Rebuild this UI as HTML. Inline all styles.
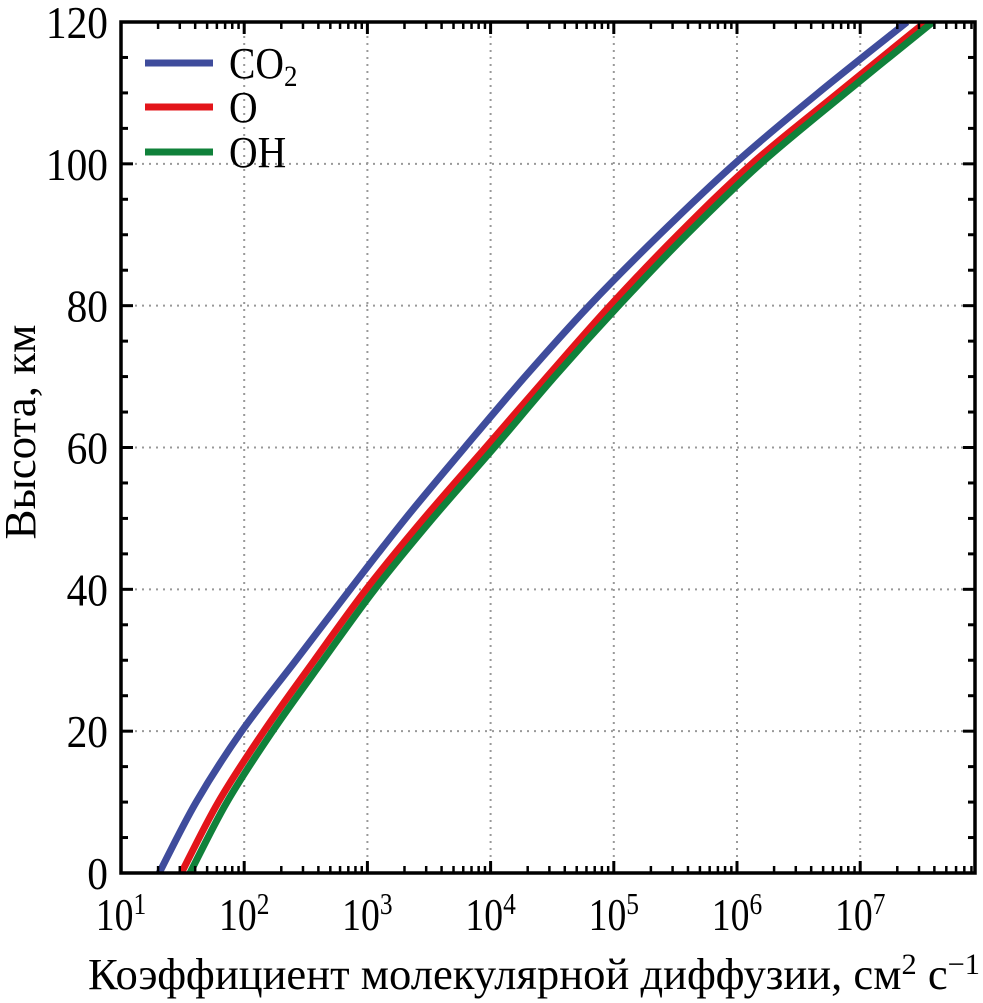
<!DOCTYPE html>
<html><head><meta charset="utf-8"><style>
body{margin:0;background:#fff}
svg{display:block}
text{font-family:"Liberation Serif",serif;fill:#000}
</style></head><body>
<svg id="chart" width="983" height="1003" viewBox="0 0 983 1003" xmlns="http://www.w3.org/2000/svg">
<g id="grid"></g>
<g id="series"></g>
<g id="axes"></g>
<g>
 <line x1="145" y1="63" x2="213" y2="63" stroke="#3f4c9c" stroke-width="7"/>
 <text x="229" y="78" font-size="44" transform="translate(229,0) scale(0.9,1) translate(-229,0)">CO<tspan font-size="30" dy="8">2</tspan></text>
 <line x1="145" y1="107" x2="213" y2="107" stroke="#e3151a" stroke-width="7"/>
 <text x="229" y="122" font-size="44" transform="translate(229,0) scale(0.9,1) translate(-229,0)">O</text>
 <line x1="145" y1="152" x2="213" y2="152" stroke="#10813a" stroke-width="7"/>
 <text x="229" y="167" font-size="44" transform="translate(229,0) scale(0.9,1) translate(-229,0)">OH</text>
</g>
<text transform="translate(35,432) rotate(-90)" text-anchor="middle" font-size="44" textLength="215" lengthAdjust="spacingAndGlyphs">Высота, км</text>
<text x="88" y="989" font-size="44" textLength="892" lengthAdjust="spacingAndGlyphs">Коэффициент молекулярной диффузии, см<tspan font-size="30" dy="-15">2</tspan><tspan dy="15"> с</tspan><tspan font-size="30" dy="-15">−1</tspan></text>
</svg>
<script>
const altitudes=[0,10,20,30,40,50,60,70,80,90,100,110,120];
const logCO2=[1.31,1.61,1.98,2.42,2.86,3.31,3.79,4.28,4.80,5.37,5.98,6.66,7.38];
const logO=[1.49,1.79,2.16,2.57,2.99,3.46,3.96,4.46,4.97,5.52,6.12,6.82,7.53];
const logOH=[1.56,1.86,2.23,2.64,3.06,3.53,4.03,4.52,5.04,5.59,6.19,6.88,7.59];
const yTicks=[0,20,40,60,80,100,120];
const xDecades=[1,2,3,4,5,6,7];
const NS="http://www.w3.org/2000/svg";
const L=121,R=975,T=22,B=873,X0=1,X1=1+(R-L)/123.2,Y0=0,Y1=120;
const sx=v=>L+(v-X0)/(X1-X0)*(R-L);
const sy=v=>B-(v-Y0)/(Y1-Y0)*(B-T);
function mk(tag,attrs,parent){const e=document.createElementNS(NS,tag);for(const k in attrs)e.setAttribute(k,attrs[k]);parent.appendChild(e);return e;}
const grid=document.getElementById('grid'),axes=document.getElementById('axes'),ser=document.getElementById('series');
yTicks.forEach(v=>{if(v>0&&v<120){const g=mk('line',{x1:L,x2:R,y1:sy(v),y2:sy(v),stroke:'#999','stroke-width':2,'stroke-dasharray':'2 5'},grid);

}
const t=mk('text',{x:108,y:sy(v)+16,'text-anchor':'end','font-size':46,transform:'translate(108,0) scale(0.9,1) translate(-108,0)'},axes);t.textContent=v;

});
for(let v=0;v<=120;v+=5){const len=v%20===0?12:7;
mk('line',{x1:L,x2:L+len,y1:sy(v),y2:sy(v),stroke:'#000','stroke-width':3},axes);
mk('line',{x1:R,x2:R-len,y1:sy(v),y2:sy(v),stroke:'#000','stroke-width':3},axes);}
xDecades.forEach(d=>{const x=sx(d);
if(d>1){const g=mk('line',{x1:x,x2:x,y1:T,y2:B,stroke:'#999','stroke-width':2,'stroke-dasharray':'2 5'},grid);

}
const t=mk('text',{x:x,y:930,'text-anchor':'middle','font-size':46,transform:'translate('+x+',0) scale(0.82,1) translate('+(-x)+',0)'},axes);t.innerHTML='10<tspan font-size="31" dy="-16">'+d+'</tspan>';


mk('line',{x1:x,x2:x,y1:B,y2:B-12,stroke:'#000','stroke-width':3},axes);
mk('line',{x1:x,x2:x,y1:T,y2:T+12,stroke:'#000','stroke-width':3},axes);
for(let m=2;m<=9;m++){const xm=sx(d+Math.log10(m));if(xm<R){
mk('line',{x1:xm,x2:xm,y1:B,y2:B-7,stroke:'#000','stroke-width':2.5},axes);
mk('line',{x1:xm,x2:xm,y1:T,y2:T+7,stroke:'#000','stroke-width':2.5},axes);}}});
const fr=mk('rect',{x:L,y:T,width:R-L,height:B-T,fill:'none',stroke:'#000','stroke-width':3.5},axes);


const cp=mk('clipPath',{id:'clip'},document.getElementById('chart'));mk('rect',{x:L,y:T,width:R-L,height:B-T},cp);
function line(arr,color,name){
const pts=arr.map((v,i)=>[sx(v),sy(altitudes[i])]);
let d='M'+pts[0].join(',');
for(let i=0;i<pts.length-1;i++){const p0=pts[i-1]||pts[i],p1=pts[i],p2=pts[i+1],p3=pts[i+2]||p2;
const c1=[p1[0]+(p2[0]-p0[0])/6,p1[1]+(p2[1]-p0[1])/6],c2=[p2[0]-(p3[0]-p1[0])/6,p2[1]-(p3[1]-p1[1])/6];
d+=' C'+c1.join(',')+' '+c2.join(',')+' '+p2.join(',');}
const p=mk('path',{d:d,fill:'none',stroke:color,'stroke-width':7,'clip-path':'url(#clip)'},ser);

}
line(logCO2,'#3f4c9c','line-co2');
line(logO,'#e3151a','line-o');
line(logOH,'#10813a','line-oh');
</script>
</body></html>
